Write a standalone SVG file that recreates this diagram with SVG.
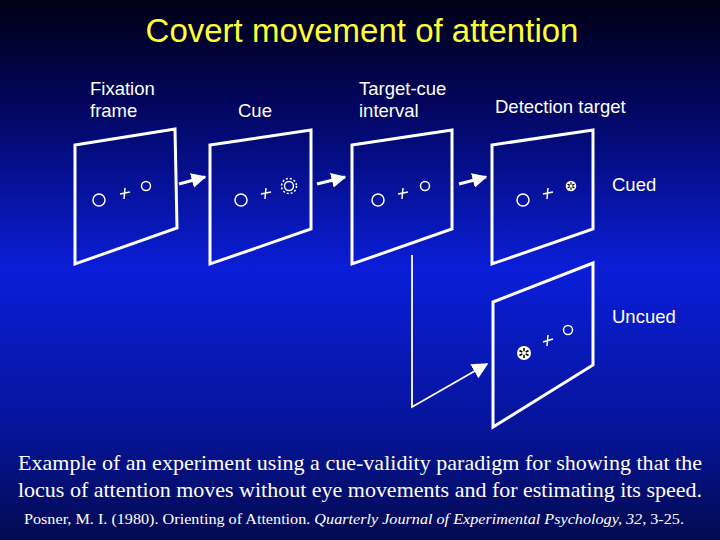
<svg xmlns="http://www.w3.org/2000/svg" width="720" height="540" viewBox="0 0 720 540">
<defs>
<linearGradient id="bg" x1="0" y1="0" x2="0" y2="1">
<stop offset="0" stop-color="#000014"/>
<stop offset="0.2" stop-color="#020660"/>
<stop offset="0.5" stop-color="#0a1ed8"/>
<stop offset="0.8" stop-color="#061498"/>
<stop offset="1" stop-color="#030a50"/>
</linearGradient>
<marker id="ah" viewBox="0 0 10 10" refX="9" refY="5" markerWidth="5" markerHeight="5" orient="auto"><path d="M0,0 L10,5 L0,10 z" fill="#fff"/></marker>
<marker id="ah2" viewBox="0 0 10 10" refX="9" refY="5" markerWidth="9" markerHeight="9" orient="auto"><path d="M0,0 L10,5 L0,10 z" fill="#fff"/></marker>
<g id="star"><circle r="7" fill="#fff"/><g stroke="#000" stroke-width="1.6"><line x1="0" y1="-5" x2="0" y2="5"/><line x1="-4.5" y1="-2.5" x2="4.5" y2="2.5"/><line x1="-4.5" y1="2.5" x2="4.5" y2="-2.5"/></g><circle r="2" fill="#fff"/></g>
</defs>
<style>
.f{fill:none;stroke:#fff;stroke-width:3;stroke-linejoin:miter}
.s{fill:none;stroke:#fff;stroke-width:1.5}
.lbl{font-family:"Liberation Sans",Arial,sans-serif;font-size:18.5px;fill:#fff}
.ser{font-family:"Liberation Serif","Times New Roman",serif;fill:#fff}
</style>
<rect width="720" height="540" fill="url(#bg)"/>
<text x="362" y="42" text-anchor="middle" font-family="Liberation Sans,Arial,sans-serif" font-size="33" fill="#ffff33">Covert movement of attention</text>
<g id="labels">
<text class="lbl" x="90" y="95">Fixation</text><text class="lbl" x="90" y="117">frame</text>
<text class="lbl" x="238" y="117">Cue</text>
<text class="lbl" x="359" y="95">Target-cue</text><text class="lbl" x="359" y="117">interval</text>
<text class="lbl" x="495" y="113">Detection target</text>
<text class="lbl" x="612" y="191">Cued</text>
<text class="lbl" x="612" y="323">Uncued</text>
</g>
<g id="frame1"><path class="f" d="M75,145 L175,129 L177,228 L75,264 Z"/><circle class="s" cx="99" cy="200" r="6"/><path class="s" d="M120,194 l10,-2 M125,188 l-1,11"/><circle class="s" cx="146" cy="186" r="4.5"/></g>
<g id="frame2"><path class="f" d="M210,145 L311,130 L311,229 L210,264 Z"/><circle class="s" cx="241" cy="200" r="6"/><path class="s" d="M261,194 l10,-2 M266,188 l-1,11"/><circle class="s" cx="289" cy="186" r="4.5"/><circle cx="289" cy="186" r="7.5" fill="none" stroke="#fff" stroke-width="1.5" stroke-dasharray="2 2"/></g>
<g id="frame3"><path class="f" d="M352,145 L452,130 L452,229 L352,264 Z"/><circle class="s" cx="378" cy="200" r="6"/><path class="s" d="M398,194 l10,-2 M403,188 l-1,11"/><circle class="s" cx="425" cy="186" r="4.5"/></g>
<g id="frame4"><path class="f" d="M492,145 L593,130 L593,229 L492,264 Z"/><circle class="s" cx="523" cy="200" r="6"/><path class="s" d="M543,194 l10,-2 M548,188 l-1,11"/><use href="#star" transform="translate(571 186) scale(0.75)"/></g>
<g id="frame5"><path class="f" d="M493,302 L593,263 L593,365 L493,427 Z"/><use href="#star" transform="translate(524 353)"/><path class="s" d="M543,342 l10,-3 M548,335 l-1,11"/><circle class="s" cx="568" cy="330" r="4.5"/></g>
<g id="connectors" stroke="#fff" stroke-width="3" fill="none">
<line x1="179" y1="184" x2="205" y2="177" marker-end="url(#ah)"/>
<line x1="317" y1="184" x2="345" y2="177" marker-end="url(#ah)"/>
<line x1="459" y1="184" x2="486" y2="177" marker-end="url(#ah)"/>
<path d="M412,255 V407 L487,364" stroke-width="1.8" marker-end="url(#ah2)"/>
</g>
<text class="ser" x="18" y="470" font-size="21" textLength="684" lengthAdjust="spacingAndGlyphs">Example of an experiment using a cue-validity paradigm for showing that the</text>
<text class="ser" x="18" y="497" font-size="21" textLength="684" lengthAdjust="spacingAndGlyphs">locus of attention moves without eye movements and for estimating its speed.</text>
<text class="ser" x="24" y="524" font-size="14.5" textLength="660" lengthAdjust="spacingAndGlyphs">Posner, M. I. (1980). Orienting of Attention. <tspan font-style="italic">Quarterly Journal of Experimental Psychology, 32</tspan>, 3-25.</text>
</svg>
